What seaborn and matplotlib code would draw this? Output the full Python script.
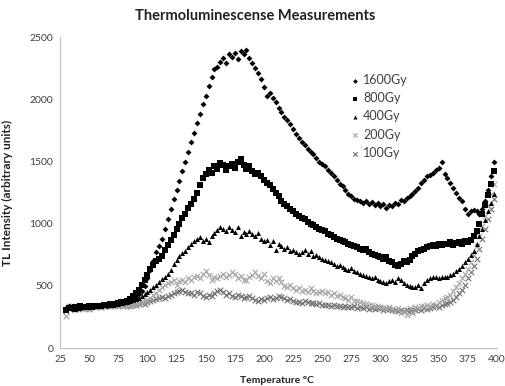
import pandas as pd
import matplotlib
matplotlib.use("Agg")
import matplotlib.pyplot as plt
import seaborn as sns

# temperature grid (deg C)
temps = [
    30, 32.5, 35, 37.5, 40, 42.5, 45, 47.5, 50, 52.5,
    55, 57.5, 60, 62.5, 65, 67.5, 70, 72.5, 75, 77.5,
    80, 82.5, 85, 87.5, 90, 92.5, 95, 97.5, 100, 102.5,
    105, 107.5, 110, 112.5, 115, 117.5, 120, 122.5, 125, 127.5,
    130, 132.5, 135, 137.5, 140, 142.5, 145, 147.5, 150, 152.5,
    155, 157.5, 160, 162.5, 165, 167.5, 170, 172.5, 175, 177.5,
    180, 182.5, 185, 187.5, 190, 192.5, 195, 197.5, 200, 202.5,
    205, 207.5, 210, 212.5, 215, 217.5, 220, 222.5, 225, 227.5,
    230, 232.5, 235, 237.5, 240, 242.5, 245, 247.5, 250, 252.5,
    255, 257.5, 260, 262.5, 265, 267.5, 270, 272.5, 275, 277.5,
    280, 282.5, 285, 287.5, 290, 292.5, 295, 297.5, 300, 302.5,
    305, 307.5, 310, 312.5, 315, 317.5, 320, 322.5, 325, 327.5,
    330, 332.5, 335, 337.5, 340, 342.5, 345, 347.5, 350, 352.5,
    355, 357.5, 360, 362.5, 365, 367.5, 370, 372.5, 375, 377.5,
    380, 382.5, 385, 387.5, 390, 392.5, 395, 397.5,
]

gy1600 = [
    320, 335, 318, 330, 325, 332, 328, 335, 330, 338,
    335, 340, 338, 345, 342, 350, 348, 355, 352, 360,
    365, 370, 380, 392, 410, 432, 460, 500, 560, 625,
    700, 770, 820, 880, 960, 1040, 1120, 1200, 1270, 1340,
    1420, 1500, 1580, 1660, 1730, 1810, 1880, 1960, 2030, 2110,
    2180, 2240, 2260, 2300, 2330, 2290, 2360, 2340, 2370, 2320,
    2390, 2360, 2400, 2330, 2290, 2250, 2210, 2160, 2100, 2030,
    2050, 2010, 1980, 1930, 1900, 1860, 1830, 1800, 1760, 1720,
    1690, 1660, 1630, 1600, 1580, 1560, 1530, 1500, 1480, 1460,
    1430, 1410, 1380, 1350, 1320, 1300, 1270, 1240, 1220, 1200,
    1190, 1180, 1170, 1185, 1160, 1175, 1150, 1170, 1140, 1160,
    1130, 1150, 1140, 1170, 1160, 1190, 1180, 1210, 1220, 1240,
    1260, 1290, 1330, 1350, 1380, 1390, 1410, 1430, 1450, 1500,
    1400, 1370, 1330, 1290, 1250, 1210, 1180, 1120, 1080, 1100,
    1110, 1100, 1080, 1120, 1180, 1270, 1380, 1500,
]

gy800 = [
    310, 325, 320, 330, 322, 335, 328, 332, 336, 330,
    338, 342, 335, 348, 345, 352, 350, 358, 362, 368,
    372, 378, 395, 420, 445, 470, 505, 545, 590, 640,
    670, 700, 715, 740, 790, 830, 870, 910, 960, 1000,
    1045, 1080, 1130, 1160, 1200, 1250, 1310, 1370, 1400, 1430,
    1410, 1460, 1440, 1490, 1470, 1430, 1460, 1480, 1450, 1500,
    1520, 1470, 1440, 1460, 1420, 1400, 1410, 1380, 1350, 1330,
    1310, 1280, 1250, 1220, 1180, 1160, 1140, 1120, 1100, 1080,
    1060, 1050, 1040, 1010, 1000, 990, 970, 960, 950, 940,
    920, 910, 890, 880, 870, 860, 850, 840, 830, 820,
    810, 800, 790, 795, 770, 760, 750, 740, 735, 720,
    730, 700, 690, 670, 660, 680, 700, 690, 710, 740,
    760, 780, 790, 800, 810, 820, 830, 820, 840, 830,
    840, 835, 850, 830, 845, 850, 840, 860, 850, 870,
    900, 940, 1000, 1080, 1150, 1230, 1320, 1420,
]

gy400 = [
    315, 320, 330, 318, 328, 325, 335, 330, 332, 340,
    335, 342, 340, 345, 350, 348, 355, 360, 358, 365,
    368, 372, 378, 385, 392, 400, 418, 432, 450, 470,
    490, 510, 530, 555, 575, 600, 630, 680, 710, 740,
    765, 780, 810, 835, 860, 875, 890, 860, 880, 850,
    900, 925, 950, 975, 960, 945, 970, 950, 930, 975,
    900, 930, 915, 940, 920, 900, 925, 880, 860, 870,
    830, 860, 790, 840, 820, 800, 810, 780, 790, 770,
    760, 770, 790, 760, 780, 740, 750, 730, 720, 710,
    700, 690, 680, 660, 670, 650, 640, 630, 645, 620,
    610, 600, 590, 580, 575, 560, 570, 550, 540, 530,
    520, 540, 550, 530, 560, 545, 520, 510, 500, 495,
    490, 510, 480, 520, 550, 560, 570, 575, 560, 570,
    575, 570, 590, 600, 620, 640, 660, 690, 720, 750,
    780, 840, 900, 960, 1030, 1100, 1170, 1240,
]

gy200 = [
    260, 340, 325, 310, 330, 320, 335, 318, 325, 330,
    330, 335, 328, 340, 335, 345, 340, 338, 345, 350,
    340, 335, 345, 350, 355, 362, 370, 380, 390, 405,
    425, 445, 470, 490, 505, 520, 530, 545, 510, 540,
    550, 530, 560, 545, 570, 580, 560, 600, 620, 590,
    550, 570, 560, 580, 600, 570, 590, 610, 600, 560,
    580, 550, 545, 570, 590, 610, 580, 560, 600, 540,
    520, 560, 540, 565, 530, 500, 490, 510, 480, 470,
    480, 460, 470, 450, 480, 460, 440, 450, 460, 440,
    450, 430, 440, 420, 430, 410, 400, 390, 410, 380,
    380, 370, 360, 355, 345, 350, 340, 335, 330, 325,
    320, 330, 315, 300, 325, 280, 290, 270, 320, 285,
    330, 325, 340, 335, 345, 340, 355, 350, 370, 385,
    400, 410, 430, 460, 490, 520, 560, 600, 640, 690,
    750, 820, 900, 980, 1060, 1150, 1240, 1320,
]

gy100 = [
    300, 320, 335, 325, 315, 330, 322, 328, 318, 335,
    330, 338, 332, 340, 345, 338, 350, 345, 340, 352,
    345, 335, 340, 350, 345, 355, 360, 352, 370, 380,
    385, 395, 400, 410, 405, 420, 430, 440, 450, 460,
    470, 455, 445, 440, 430, 450, 440, 420, 410, 430,
    420, 440, 460, 470, 450, 430, 440, 420, 410, 430,
    420, 400, 410, 420, 400, 390, 380, 395, 385, 400,
    410, 395, 400, 420, 410, 400, 385, 395, 380, 370,
    375, 365, 380, 370, 360, 365, 355, 360, 350, 345,
    350, 340, 345, 335, 340, 330, 338, 332, 328, 335,
    325, 330, 320, 328, 318, 325, 315, 320, 322, 310,
    318, 312, 305, 310, 300, 308, 302, 310, 305, 300,
    310, 315, 305, 320, 318, 325, 330, 335, 330, 345,
    355, 360, 375, 390, 410, 440, 470, 510, 560, 610,
    660, 720, 800, 880, 960, 1040, 1120, 1200,
]

series_names = ["1600Gy", "800Gy", "400Gy", "200Gy", "100Gy"]
series_values = [gy1600, gy800, gy400, gy200, gy100]

df = pd.concat(
    [pd.DataFrame({"temp": temps, "tl": vals, "dose": name})
     for name, vals in zip(series_names, series_values)],
    ignore_index=True,
)

# marker styling per dose (Excel-like)
styles = {
    "1600Gy": dict(marker="D", s=9, color="black", linewidth=0),
    "800Gy": dict(marker="s", s=20, color="black", linewidth=0),
    "400Gy": dict(marker="^", s=13, color="black", linewidth=0),
    "200Gy": dict(marker="x", s=16, color="#a6a6a6", linewidth=0.8),
    "100Gy": dict(marker="x", s=16, color="#707070", linewidth=0.8),
}

sns.set_style("white")
plt.rcParams["font.family"] = ["Lato", "DejaVu Sans"]

fig, ax = plt.subplots(figsize=(5.05, 3.86), dpi=100)
fig.subplots_adjust(left=0.119, right=0.984, bottom=0.098, top=0.904)

# draw low doses first so the black markers sit on top
for name in ["100Gy", "200Gy", "400Gy", "800Gy", "1600Gy"]:
    sub = df[df["dose"] == name]
    sns.scatterplot(data=sub, x="temp", y="tl", ax=ax, label=name,
                    **styles[name])

ax.set_xlim(25, 400)
ax.set_ylim(0, 2500)
ax.set_xticks(range(25, 401, 25))
ax.set_yticks(range(0, 2501, 500))

for side in ["top", "right"]:
    ax.spines[side].set_visible(False)
for side in ["left", "bottom"]:
    ax.spines[side].set_color("#bfbfbf")
    ax.spines[side].set_linewidth(0.8)
ax.tick_params(axis="both", which="both", length=3, width=0.8,
               color="#bfbfbf", labelsize=7.5, labelcolor="#404040",
               direction="out", pad=2)

fig.text(0.505, 0.958, "Thermoluminescense Measurements", fontsize=10.5,
         fontweight="bold", color="#222222", ha="center", va="center")
ax.set_xlabel("Temperature \u00b0C", fontsize=7.5, fontweight="bold",
              color="#222222")
ax.set_ylabel("TL Intensity (arbitrary units)", fontsize=8.5,
              fontweight="bold", color="#222222")
ax.xaxis.set_label_coords(0.497, -0.09)
ax.yaxis.set_label_coords(-0.107, 0.5)

handles, labels = ax.get_legend_handles_labels()
order = [labels.index(n) for n in series_names]
ax.legend([handles[i] for i in order], [labels[i] for i in order],
          loc="upper left", bbox_to_anchor=(0.636, 0.918), frameon=False,
          fontsize=9, labelspacing=0.5, handlelength=1, handletextpad=0.1,
          markerscale=0.8, labelcolor="#404040")

plt.savefig("out.png", dpi=100)
plt.close()
